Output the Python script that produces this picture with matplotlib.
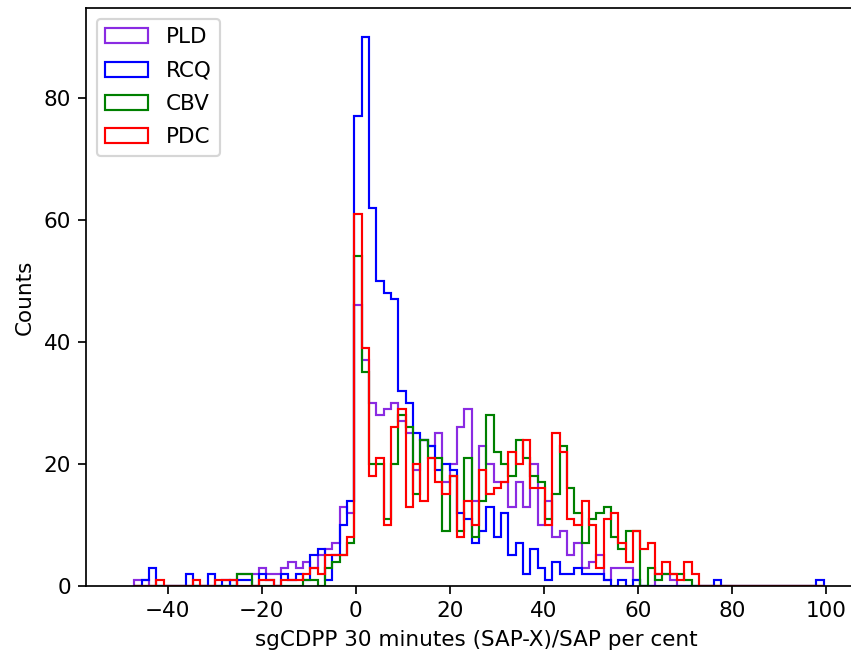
import matplotlib
matplotlib.use("Agg")
import matplotlib.pyplot as plt
import numpy as np

# common bin edges for all four pipelines
lo, hi, nbins = -47.1, 99.5, 94
edges = np.linspace(lo, hi, nbins + 1)

# counts per bin, PLD / RCQ / CBV / PDC
pld = [1, 1, 0, 0, 0, 0, 0, 0, 0, 0,
       0, 0, 0, 1, 2, 2, 2, 3, 2, 2,
       3, 4, 3, 4, 3, 5, 6, 7, 13, 12,
       46, 37, 30, 28, 29, 30, 27, 25, 19, 24,
       23, 25, 17, 20, 26, 29, 14, 23, 20, 17,
       17, 13, 17, 13, 20, 10, 14, 8, 9, 5,
       7, 3, 4, 5, 1, 3, 3, 3, 1, 0,
       0, 2, 2, 1, 0, 0, 0, 0, 0, 0,
       0, 0, 0, 0, 0, 0, 0, 0, 0, 0,
       0, 0, 0, 0]
rcq = [0, 1, 3, 0, 0, 0, 0, 2, 0, 0,
       2, 0, 1, 0, 1, 1, 0, 2, 1, 0,
       2, 1, 2, 1, 5, 6, 1, 5, 10, 14,
       77, 90, 62, 50, 48, 47, 32, 30, 25, 24,
       23, 19, 20, 19, 12, 11, 7, 9, 13, 8,
       12, 5, 7, 2, 6, 3, 1, 4, 2, 2,
       3, 2, 2, 2, 1, 0, 1, 0, 1, 0,
       0, 0, 0, 0, 0, 0, 0, 0, 0, 1,
       0, 0, 0, 0, 0, 0, 0, 0, 0, 0,
       0, 0, 0, 1]
cbv = [0, 0, 0, 0, 0, 0, 0, 0, 0, 0,
       0, 0, 0, 0, 2, 2, 0, 0, 0, 0,
       0, 0, 0, 1, 1, 0, 3, 4, 5, 7,
       54, 35, 20, 20, 11, 20, 28, 26, 15, 24,
       21, 21, 9, 18, 9, 21, 8, 14, 28, 22,
       20, 18, 24, 21, 18, 17, 11, 15, 23, 16,
       12, 7, 11, 12, 13, 8, 6, 9, 9, 0,
       3, 1, 2, 2, 2, 1, 0, 0, 0, 0,
       0, 0, 0, 0, 0, 0, 0, 0, 0, 0,
       0, 0, 0, 0]
pdc = [0, 0, 0, 1, 0, 0, 0, 0, 1, 0,
       0, 1, 1, 1, 0, 0, 0, 1, 1, 0,
       1, 1, 1, 2, 3, 2, 5, 5, 5, 8,
       61, 39, 18, 21, 10, 26, 29, 13, 20, 14,
       21, 17, 15, 18, 8, 14, 10, 19, 15, 16,
       17, 22, 20, 24, 16, 16, 10, 25, 22, 11,
       10, 14, 10, 3, 11, 12, 7, 4, 9, 6,
       7, 2, 4, 2, 1, 4, 2, 0, 0, 0,
       0, 0, 0, 0, 0, 0, 0, 0, 0, 0,
       0, 0, 0, 0]

names = ["PLD", "RCQ", "CBV", "PDC"]
colors = ["blueviolet", "blue", "green", "red"]

W, H, DPI = 851, 656, 155
fig = plt.figure(figsize=(W / DPI, H / DPI), dpi=DPI)
ax = fig.add_axes([86 / W, 70 / H, 780 / W, 578 / H])

for counts, name, c in zip([pld, rcq, cbv, pdc], names, colors):
    ax.hist(edges[:-1], bins=edges, weights=counts, histtype="step",
            color=c, lw=1.0, label=name)

ax.set_xlim(-57.4, 108.5)
ax.set_ylim(0, 94.7)
ax.set_xticks([-40, -20, 0, 20, 40, 60, 80, 100])
ax.set_yticks([0, 20, 40, 60, 80])
ax.set_xlabel("sgCDPP 30 minutes (SAP-X)/SAP per cent")
ax.set_ylabel("Counts")
ax.legend(loc="upper left", labelspacing=0.62)

fig.savefig("out.png", dpi=DPI)
